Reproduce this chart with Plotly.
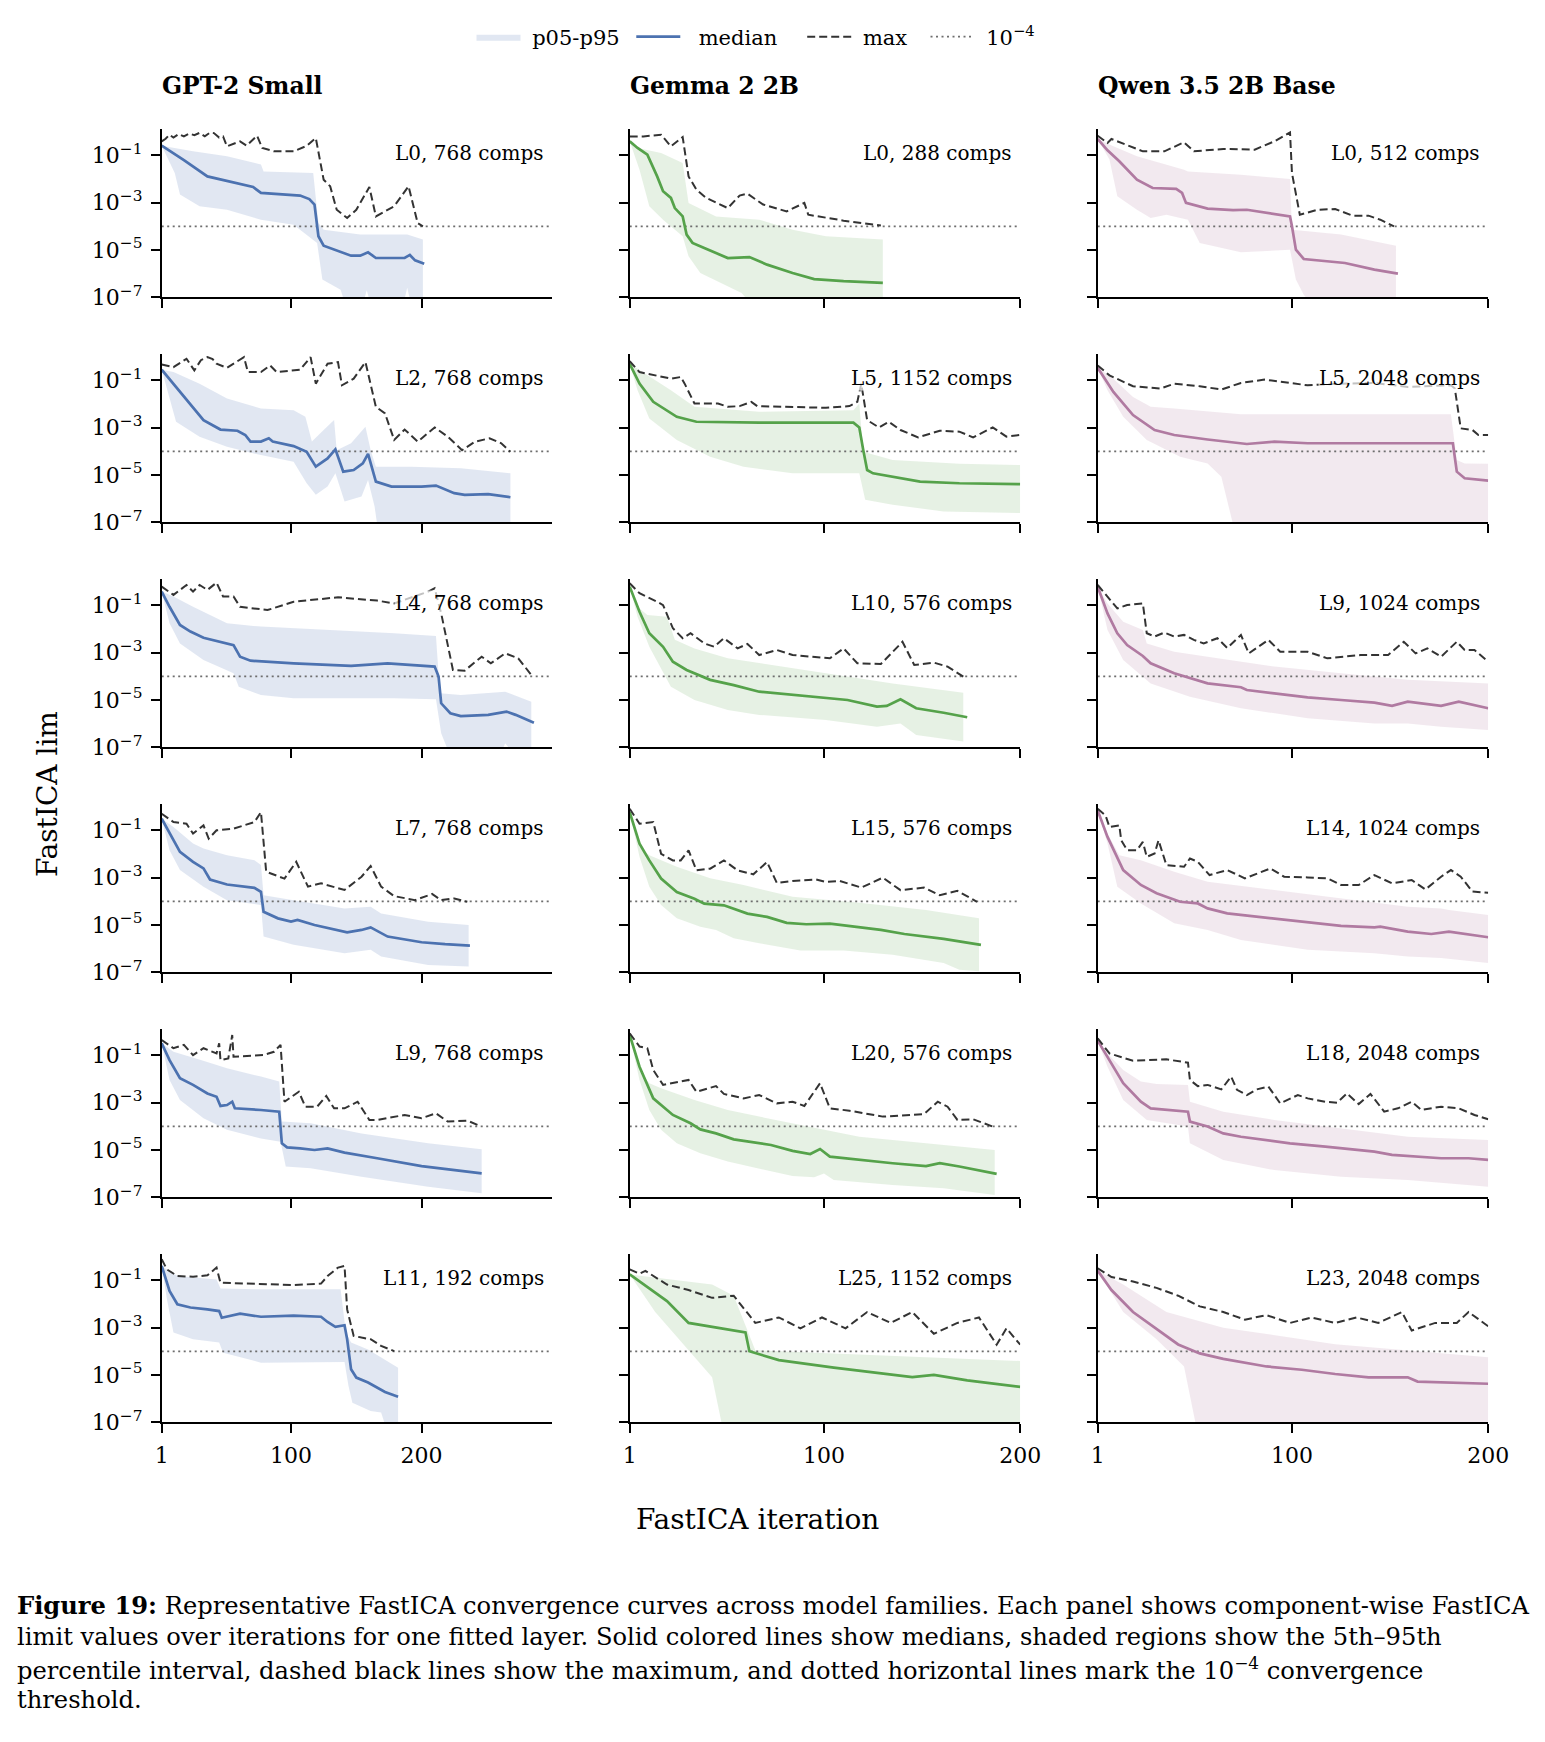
import plotly.graph_objects as go

# ---------------- data: (iteration, log10 of FastICA lim) ----------------
# GPT-2 Small
GPT_L0_MED = [(1,-0.59),(18,-1.2),(36,-1.89),(59,-2.17),(71,-2.34),(77,-2.59),(107,-2.70),(114,-2.85),(118,-3.08),(121,-4.42),(125,-4.82),(146,-5.24),(153,-5.24),(159,-5.10),(165,-5.34),(187,-5.34),(191,-5.21),(195,-5.44),(202,-5.58)]
GPT_L0_P95 = [(1,-0.59),(10,-0.69),(25,-0.83),(51,-1.04),(77,-1.39),(79,-1.68),(117,-1.75),(121,-3.86),(125,-4.14),(153,-4.35),(189,-4.35),(201,-4.56)]
GPT_L0_P05 = [(1,-0.59),(11,-1.75),(15,-2.66),(30,-3.15),(51,-3.30),(77,-3.72),(102,-3.93),(120,-4.70),(124,-6.25),(138,-6.68),(141,-7.2),(155,-7.3),(158,-6.7),(161,-7.3),(186,-7.3),(189,-6.6),(192,-7.3),(201,-7.3)]
GPT_L0_MAX = [(1,-0.41),(4,-0.3),(7,-0.13),(10,-0.25),(14,-0.1),(18,-0.2),(22,-0.08),(26,-0.15),(30,-0.05),(34,-0.2),(38,-0.04),(41,-0.06),(45,-0.25),(48,-0.2),(51,-0.62),(61,-0.41),(66,-0.59),(74,-0.17),(78,-0.69),(87,-0.83),(102,-0.83),(112,-0.6),(119,-0.27),(125,-2.03),(130,-2.31),(135,-3.30),(143,-3.65),(150,-3.30),(160,-2.34),(165,-3.58),(179,-3.15),(190,-2.31),(197,-3.86),(201,-4.0)]

GPT_L2_MED = [(1,-0.55),(10,-1.14),(25,-2.12),(33,-2.68),(46,-3.08),(59,-3.13),(65,-3.31),(69,-3.59),(77,-3.59),(83,-3.45),(86,-3.59),(102,-3.78),(112,-4.02),(119,-4.65),(128,-4.30),(134,-3.92),(140,-4.86),(148,-4.79),(155,-4.51),(159,-4.11),(165,-5.28),(177,-5.49),(200,-5.49),(211,-5.45),(225,-5.77),(233,-5.84),(251,-5.81),(268,-5.94)]
GPT_L2_P95 = [(1,-0.55),(10,-0.65),(30,-1.14),(51,-1.77),(77,-2.19),(102,-2.26),(111,-2.54),(116,-3.59),(125,-3.10),(133,-2.68),(135,-3.95),(146,-3.66),(157,-2.96),(161,-3.95),(165,-4.65),(192,-4.65),(230,-4.72),(268,-4.93)]
GPT_L2_P05 = [(1,-0.55),(7,-1.70),(12,-2.75),(30,-3.38),(51,-3.81),(77,-4.16),(102,-4.44),(112,-5.35),(119,-5.84),(128,-5.49),(134,-4.93),(141,-6.12),(154,-5.91),(159,-5.21),(164,-6.33),(166,-7.1),(268,-7.2)]
GPT_L2_MAX = [(1,-0.33),(10,-0.44),(20,-0.09),(26,-0.58),(31,-0.15),(36,-0.02),(40,-0.1),(43,-0.30),(51,-0.47),(64,-0.02),(67,-0.65),(77,-0.65),(84,-0.37),(89,-0.65),(107,-0.55),(115,-0.02),(119,-1.14),(128,-0.30),(136,-0.23),(139,-1.21),(148,-0.93),(157,-0.23),(165,-2.12),(172,-2.40),(179,-3.52),(187,-3.08),(197,-3.59),(210,-2.99),(220,-3.38),(231,-3.95),(241,-3.59),(252,-3.45),(261,-3.66),(268,-4.02)]

GPT_L4_MED = [(1,-0.42),(7,-1.06),(15,-1.83),(23,-2.11),(33,-2.37),(56,-2.68),(61,-3.17),(69,-3.34),(102,-3.45),(146,-3.56),(174,-3.45),(210,-3.59),(213,-4.01),(215,-5.14),(222,-5.56),(230,-5.68),(251,-5.63),(265,-5.49),(272,-5.63),(286,-5.96)]
GPT_L4_P95 = [(1,-0.42),(10,-0.63),(25,-1.06),(51,-1.76),(77,-1.90),(128,-2.04),(179,-2.18),(211,-2.30),(214,-4.72),(230,-4.79),(264,-4.65),(284,-5.07)]
GPT_L4_P05 = [(1,-0.42),(7,-1.76),(15,-2.61),(33,-3.31),(56,-3.87),(60,-4.44),(77,-4.79),(102,-4.93),(179,-4.93),(211,-4.97),(215,-6.41),(220,-7.1),(262,-7.1),(264,-6.83),(268,-7.1),(284,-7.1)]
GPT_L4_MAX = [(1,-0.21),(10,-0.56),(20,-0.14),(25,-0.42),(30,-0.14),(36,-0.35),(43,-0.04),(48,-0.63),(56,-0.63),(61,-1.06),(82,-1.20),(102,-0.85),(136,-0.66),(166,-0.80),(179,-0.92),(205,-0.42),(210,-0.28),(215,-1.34),(224,-3.73),(233,-3.76),(246,-3.17),(253,-3.45),(264,-3.03),(274,-3.24),(284,-3.94)]

GPT_L7_MED = [(1,-0.51),(10,-1.42),(15,-1.91),(25,-2.33),(33,-2.61),(38,-3.08),(51,-3.29),(72,-3.43),(77,-3.60),(79,-4.44),(90,-4.72),(100,-4.86),(105,-4.79),(118,-5.00),(143,-5.31),(154,-5.21),(161,-5.10),(174,-5.49),(200,-5.73),(218,-5.81),(237,-5.87)]
GPT_L7_P95 = [(1,-0.51),(10,-0.86),(25,-1.56),(33,-1.77),(51,-2.05),(72,-2.26),(77,-2.47),(79,-3.74),(102,-3.95),(141,-4.30),(161,-4.23),(169,-4.51),(205,-4.86),(236,-5.0)]
GPT_L7_P05 = [(1,-0.51),(7,-1.84),(15,-2.68),(33,-3.38),(51,-3.95),(77,-4.16),(79,-5.49),(102,-5.84),(141,-6.19),(161,-6.05),(169,-6.33),(205,-6.69),(236,-6.76)]
GPT_L7_MAX = [(1,-0.30),(10,-0.65),(20,-0.72),(25,-1.14),(33,-0.79),(37,-1.35),(43,-1.0),(56,-0.93),(72,-0.65),(77,-0.23),(81,-2.75),(95,-3.04),(104,-2.33),(113,-3.38),(123,-3.24),(141,-3.52),(154,-2.96),(161,-2.51),(169,-3.38),(179,-3.78),(195,-3.95),(208,-3.69),(215,-3.95),(225,-3.88),(235,-4.02)]

GPT_L9_MED = [(1,-0.49),(7,-1.20),(15,-1.97),(25,-2.25),(36,-2.61),(43,-2.75),(46,-3.14),(51,-3.10),(55,-2.96),(57,-3.24),(77,-3.31),(91,-3.38),(93,-4.72),(97,-4.89),(107,-4.93),(118,-5.0),(128,-4.93),(141,-5.11),(166,-5.35),(200,-5.68),(246,-5.99)]
GPT_L9_P95 = [(1,-0.49),(10,-0.85),(31,-1.20),(51,-1.55),(77,-1.90),(91,-2.11),(93,-3.80),(115,-3.87),(154,-4.30),(205,-4.72),(246,-4.97)]
GPT_L9_P05 = [(1,-0.49),(7,-2.04),(15,-2.89),(33,-3.66),(51,-4.15),(77,-4.51),(92,-4.65),(96,-5.70),(115,-5.77),(154,-6.13),(205,-6.55),(246,-6.83)]
GPT_L9_MAX = [(1,-0.35),(10,-0.70),(18,-0.56),(25,-0.99),(33,-0.70),(43,-0.92),(45,-0.49),(46,-1.20),(52,-1.13),(55,-0.14),(56,-1.06),(79,-0.99),(87,-0.85),(92,-0.56),(95,-2.96),(106,-2.54),(111,-3.17),(120,-3.17),(127,-2.72),(133,-3.24),(141,-3.24),(151,-2.96),(160,-3.73),(166,-3.73),(187,-3.52),(200,-3.66),(211,-3.45),(220,-3.80),(235,-3.76),(245,-3.99)]

GPT_L11_MED = [(1,-0.39),(7,-1.45),(13,-2.01),(23,-2.15),(36,-2.23),(45,-2.30),(47,-2.58),(61,-2.41),(77,-2.54),(102,-2.49),(123,-2.54),(128,-2.76),(134,-2.97),(141,-2.90),(143,-3.49),(146,-4.76),(150,-5.11),(159,-5.32),(172,-5.72),(182,-5.92)]
GPT_L11_P95 = [(1,-0.39),(5,-0.54),(13,-0.82),(43,-0.96),(46,-1.35),(77,-1.38),(138,-1.38),(142,-3.21),(146,-3.63),(159,-3.92),(172,-4.34),(182,-4.69)]
GPT_L11_P05 = [(1,-0.39),(5,-1.80),(10,-3.21),(25,-3.49),(45,-3.63),(48,-4.06),(77,-4.48),(128,-4.45),(141,-4.45),(144,-5.46),(147,-6.17),(161,-6.52),(169,-6.59),(172,-7.1),(182,-7.1)]
GPT_L11_MAX = [(1,-0.11),(5,-0.54),(13,-0.82),(25,-0.85),(36,-0.79),(43,-0.46),(46,-1.10),(64,-1.14),(102,-1.20),(123,-1.14),(128,-0.82),(136,-0.46),(141,-0.39),(143,-2.23),(148,-3.35),(154,-3.42),(161,-3.49),(169,-3.77),(179,-3.99)]

# Gemma 2 2B
GEM_L0_MED = [(1,-0.41),(5,-0.69),(10,-0.97),(15,-1.89),(18,-2.52),(22,-2.80),(24,-3.23),(28,-3.58),(30,-4.35),(33,-4.70),(39,-4.92),(51,-5.34),(62,-5.30),(71,-5.62),(84,-5.97),(95,-6.23),(110,-6.32),(124,-6.37),(130,-6.39)]
GEM_L0_P95 = [(1,-0.41),(5,-0.69),(17,-0.90),(28,-1.32),(31,-3.01),(45,-3.58),(67,-3.72),(84,-4.14),(101,-4.42),(130,-4.56)]
GEM_L0_P05 = [(1,-0.41),(6,-1.61),(11,-3.15),(18,-3.72),(28,-4.42),(31,-5.27),(37,-5.97),(51,-6.54),(58,-6.82),(61,-7.1),(130,-7.1)]
GEM_L0_MAX = [(1,-0.20),(8,-0.20),(17,-0.13),(22,-0.62),(28,-0.23),(31,-1.89),(35,-2.45),(40,-2.80),(51,-3.23),(57,-2.70),(61,-2.62),(69,-3.08),(81,-3.37),(90,-3.01),(92,-3.51),(101,-3.65),(110,-3.76),(129,-3.97)]

GEM_L5_MED = [(1,-0.30),(6,-1.14),(13,-1.91),(25,-2.54),(35,-2.75),(67,-2.79),(115,-2.79),(118,-2.99),(120,-3.94),(122,-4.79),(125,-4.93),(135,-5.07),(149,-5.28),(169,-5.35),(200,-5.39)]
GEM_L5_P95 = [(1,-0.30),(10,-0.79),(22,-1.42),(34,-2.12),(67,-2.33),(115,-2.26),(118,-1.98),(120,-4.02),(135,-4.37),(169,-4.53),(200,-4.58)]
GEM_L5_P05 = [(1,-0.30),(5,-1.42),(11,-2.61),(25,-3.52),(42,-4.23),(59,-4.65),(84,-4.93),(118,-4.93),(121,-6.05),(135,-6.26),(161,-6.54),(200,-6.61)]
GEM_L5_MAX = [(1,-0.19),(6,-0.65),(22,-0.93),(27,-0.86),(29,-1.14),(34,-1.98),(46,-1.98),(51,-2.12),(57,-2.09),(63,-1.91),(66,-2.09),(84,-2.12),(101,-2.16),(113,-2.09),(117,-1.91),(119,-1.14),(122,-2.68),(128,-2.99),(133,-2.75),(139,-3.10),(148,-3.41),(159,-3.13),(169,-3.17),(176,-3.41),(186,-2.99),(193,-3.38),(200,-3.31)]

GEM_L10_MED = [(1,-0.21),(6,-1.27),(11,-2.18),(18,-2.75),(23,-3.38),(30,-3.73),(42,-4.15),(54,-4.37),(67,-4.65),(84,-4.79),(112,-5.0),(127,-5.28),(132,-5.25),(139,-4.97),(147,-5.35),(161,-5.54),(173,-5.73)]
GEM_L10_P95 = [(1,-0.21),(5,-1.06),(10,-1.41),(20,-1.48),(24,-2.46),(34,-2.82),(51,-3.24),(67,-3.45),(101,-3.87),(135,-4.30),(171,-4.69)]
GEM_L10_P05 = [(1,-0.21),(5,-1.48),(11,-2.75),(22,-4.44),(34,-5.0),(51,-5.42),(67,-5.63),(101,-5.85),(127,-6.13),(139,-5.99),(147,-6.48),(171,-6.76)]
GEM_L10_MAX = [(1,-0.07),(6,-0.49),(15,-0.85),(18,-0.99),(23,-1.97),(28,-2.39),(32,-2.18),(39,-2.61),(44,-2.75),(49,-2.39),(56,-2.82),(61,-2.63),(67,-3.10),(76,-2.89),(84,-3.10),(95,-3.17),(103,-3.24),(110,-2.82),(117,-3.45),(129,-3.48),(140,-2.54),(146,-3.52),(156,-3.42),(163,-3.59),(171,-4.01)]

GEM_L15_MED = [(1,-0.23),(6,-1.56),(11,-2.27),(17,-3.04),(25,-3.61),(34,-3.89),(39,-4.10),(49,-4.17),(61,-4.52),(71,-4.66),(81,-4.91),(91,-4.97),(103,-4.94),(118,-5.08),(129,-5.21),(141,-5.38),(161,-5.59),(180,-5.84)]
GEM_L15_P95 = [(1,-0.23),(6,-1.70),(11,-2.05),(25,-2.54),(42,-3.03),(59,-3.31),(84,-3.81),(118,-4.06),(152,-4.37),(179,-4.72)]
GEM_L15_P05 = [(1,-0.23),(6,-2.12),(11,-3.38),(17,-4.16),(25,-4.72),(37,-5.07),(45,-5.21),(54,-5.56),(67,-5.77),(88,-6.08),(110,-6.08),(135,-6.26),(161,-6.61),(169,-6.89),(179,-6.96)]
GEM_L15_MAX = [(1,-0.09),(6,-0.72),(13,-0.65),(17,-1.99),(23,-2.27),(27,-2.27),(31,-1.85),(35,-2.69),(42,-2.62),(49,-2.27),(56,-2.69),(64,-2.86),(71,-2.34),(76,-3.23),(84,-3.14),(96,-3.08),(101,-3.18),(108,-3.14),(119,-3.42),(130,-3.0),(139,-3.53),(151,-3.42),(159,-3.74),(168,-3.56),(178,-4.02)]

GEM_L20_MED = [(1,-0.14),(6,-1.48),(13,-2.82),(23,-3.52),(32,-3.87),(37,-4.13),(45,-4.30),(54,-4.55),(73,-4.79),(84,-5.04),(93,-5.17),(98,-4.96),(103,-5.28),(118,-5.42),(135,-5.56),(152,-5.68),(159,-5.56),(169,-5.70),(188,-6.01)]
GEM_L20_P95 = [(1,-0.14),(6,-1.62),(11,-2.18),(17,-2.39),(34,-2.89),(51,-3.31),(67,-3.59),(84,-3.87),(101,-4.18),(118,-4.44),(152,-4.72),(187,-5.0)]
GEM_L20_P05 = [(1,-0.14),(6,-2.04),(11,-3.31),(17,-4.15),(25,-4.72),(37,-5.14),(51,-5.49),(67,-5.77),(84,-6.10),(95,-6.15),(100,-5.99),(105,-6.27),(135,-6.48),(161,-6.62),(187,-6.90)]
GEM_L20_MAX = [(1,-0.07),(6,-0.63),(10,-0.70),(13,-1.62),(18,-2.25),(23,-2.18),(31,-2.04),(35,-2.54),(45,-2.30),(49,-2.63),(59,-2.82),(67,-2.68),(76,-3.03),(84,-2.96),(90,-3.14),(98,-2.18),(103,-3.24),(113,-3.34),(130,-3.59),(151,-3.48),(158,-2.96),(163,-3.17),(168,-3.73),(176,-3.70),(186,-4.01)]

GEM_L25_MED = [(1,-0.75),(20,-1.88),(31,-2.80),(54,-3.12),(60,-3.2),(62,-4.0),(77,-4.37),(105,-4.69),(134,-5.0),(145,-5.09),(156,-5.0),(173,-5.23),(200,-5.5)]
GEM_L25_P95 = [(1,-0.75),(20,-0.95),(43,-1.18),(54,-1.65),(65,-3.95),(105,-4.09),(200,-4.41)]
GEM_L25_P05 = [(1,-0.75),(14,-2.34),(31,-3.95),(43,-5.10),(48,-7.1),(200,-7.1)]
GEM_L25_MAX = [(1,-0.54),(6,-0.72),(9,-0.6),(20,-1.18),(31,-1.41),(43,-1.74),(54,-1.65),(65,-2.80),(77,-2.57),(88,-3.03),(99,-2.57),(111,-3.03),(122,-2.34),(134,-2.80),(145,-2.34),(156,-3.26),(168,-2.80),(179,-2.57),(188,-3.72),(193,-3.03),(200,-3.72)]

# Qwen 3.5 2B Base
QW_L0_MED = [(1,-0.31),(6,-0.79),(12,-1.25),(21,-2.03),(29,-2.38),(41,-2.42),(44,-2.59),(46,-3.01),(57,-3.25),(70,-3.32),(77,-3.30),(91,-3.46),(99,-3.58),(100,-4.0),(102,-4.99),(106,-5.38),(120,-5.48),(127,-5.55),(142,-5.83),(154,-6.0)]
QW_L0_P95 = [(1,-0.31),(9,-0.62),(21,-1.04),(30,-1.25),(45,-1.61),(47,-1.68),(74,-1.82),(99,-2.0),(100,-4.14),(125,-4.35),(153,-4.82)]
QW_L0_P05 = [(1,-0.31),(7,-1.18),(11,-2.73),(21,-3.30),(28,-3.65),(36,-3.51),(47,-3.72),(53,-4.70),(74,-5.10),(99,-4.99),(102,-6.25),(106,-6.89),(108,-7.1),(153,-7.1)]
QW_L0_MAX = [(1,-0.17),(6,-0.48),(8,-0.31),(14,-0.51),(24,-0.83),(35,-0.83),(45,-0.45),(50,-0.83),(65,-0.73),(81,-0.76),(91,-0.41),(99,-0.03),(100,-1.75),(104,-3.51),(113,-3.30),(122,-3.27),(131,-3.55),(139,-3.55),(145,-3.72),(152,-4.0)]

QW_L5_MED = [(1,-0.47),(9,-1.49),(19,-2.47),(30,-3.10),(40,-3.31),(57,-3.50),(77,-3.69),(91,-3.59),(108,-3.66),(142,-3.66),(182,-3.66),(184,-4.86),(188,-5.14),(200,-5.24)]
QW_L5_P95 = [(1,-0.47),(9,-0.93),(19,-1.70),(28,-2.12),(40,-2.19),(74,-2.43),(108,-2.43),(181,-2.43),(184,-4.37),(188,-4.51),(200,-4.53)]
QW_L5_P05 = [(1,-0.47),(6,-1.42),(14,-2.54),(26,-3.52),(43,-4.23),(57,-4.51),(64,-5.07),(70,-7.1),(200,-7.1)]
QW_L5_MAX = [(1,-0.37),(7,-0.79),(19,-1.25),(33,-1.35),(40,-1.14),(53,-1.25),(64,-1.39),(74,-1.11),(86,-0.97),(108,-1.21),(125,-1.14),(142,-1.11),(159,-1.28),(181,-1.21),(183,-1.35),(186,-3.03),(192,-3.10),(195,-3.31),(200,-3.31)]

QW_L9_MED = [(1,-0.21),(6,-1.34),(11,-2.18),(16,-2.68),(24,-3.14),(28,-3.45),(40,-3.87),(57,-4.30),(74,-4.46),(77,-4.58),(91,-4.72),(108,-4.89),(125,-5.0),(142,-5.11),(151,-5.25),(159,-5.07),(176,-5.25),(185,-5.07),(200,-5.35)]
QW_L9_P95 = [(1,-0.21),(6,-0.92),(14,-1.69),(24,-2.04),(26,-2.61),(40,-2.96),(57,-3.17),(91,-3.59),(125,-3.87),(159,-4.15),(200,-4.30)]
QW_L9_P05 = [(1,-0.21),(6,-2.04),(14,-3.31),(28,-4.30),(48,-4.86),(74,-5.35),(108,-5.77),(142,-5.99),(159,-5.99),(176,-6.13),(200,-6.27)]
QW_L9_MAX = [(1,-0.14),(6,-0.63),(11,-1.13),(16,-0.99),(24,-0.92),(26,-2.18),(30,-2.32),(35,-2.15),(40,-2.32),(45,-2.25),(50,-2.46),(55,-2.61),(62,-2.39),(67,-2.80),(74,-2.25),(78,-3.03),(88,-2.46),(94,-2.96),(108,-2.96),(118,-3.24),(135,-3.10),(149,-3.10),(157,-2.54),(163,-3.03),(169,-2.82),(176,-3.17),(184,-2.54),(188,-2.89),(193,-2.89),(200,-3.38)]

QW_L14_MED = [(1,-0.16),(6,-1.28),(14,-2.68),(23,-3.31),(31,-3.66),(43,-4.02),(52,-4.09),(57,-4.30),(67,-4.51),(82,-4.65),(99,-4.82),(125,-5.04),(142,-5.10),(145,-5.07),(159,-5.28),(171,-5.38),(180,-5.28),(200,-5.52)]
QW_L14_P95 = [(1,-0.16),(6,-1.14),(12,-2.05),(23,-2.26),(40,-2.75),(57,-3.17),(91,-3.52),(125,-3.88),(159,-4.23),(176,-4.30),(180,-4.37),(200,-4.58)]
QW_L14_P05 = [(1,-0.16),(6,-1.56),(11,-3.38),(23,-4.09),(40,-4.93),(57,-5.21),(74,-5.63),(108,-6.05),(142,-6.19),(159,-6.33),(176,-6.40),(200,-6.61)]
QW_L14_MAX = [(1,-0.09),(5,-0.37),(7,-0.86),(12,-0.79),(13,-1.42),(16,-1.84),(21,-1.84),(24,-1.49),(26,-2.12),(30,-1.98),(32,-1.42),(36,-2.47),(45,-2.54),(48,-2.19),(52,-2.33),(58,-2.89),(67,-2.68),(76,-3.03),(89,-2.61),(96,-2.96),(108,-2.99),(118,-3.03),(125,-3.31),(134,-3.31),(142,-2.89),(151,-3.24),(161,-3.10),(168,-3.50),(176,-2.96),(181,-2.68),(186,-2.96),(192,-3.59),(200,-3.64)]

QW_L18_MED = [(1,-0.38),(7,-1.20),(14,-2.18),(23,-2.96),(28,-3.24),(47,-3.38),(48,-3.80),(57,-4.01),(65,-4.30),(74,-4.44),(88,-4.58),(99,-4.72),(117,-4.86),(142,-5.07),(151,-5.21),(176,-5.35),(190,-5.35),(200,-5.42)]
QW_L18_P95 = [(1,-0.38),(6,-0.92),(14,-1.62),(23,-2.11),(31,-2.21),(47,-2.25),(48,-2.96),(65,-3.38),(91,-3.73),(125,-4.08),(159,-4.44),(200,-4.58)]
QW_L18_P05 = [(1,-0.38),(6,-1.48),(14,-2.89),(26,-3.73),(47,-4.01),(48,-4.72),(65,-5.42),(91,-5.85),(125,-6.13),(159,-6.27),(200,-6.55)]
QW_L18_MAX = [(1,-0.28),(7,-0.92),(19,-1.23),(31,-1.20),(36,-1.17),(47,-1.31),(48,-2.04),(52,-2.30),(57,-2.25),(64,-2.44),(69,-1.90),(72,-2.46),(77,-2.68),(82,-2.44),(88,-2.32),(94,-3.03),(103,-2.68),(108,-2.82),(117,-2.96),(123,-3.0),(128,-2.61),(134,-3.06),(140,-2.63),(147,-3.38),(154,-3.24),(161,-2.96),(166,-3.31),(176,-3.17),(185,-3.24),(193,-3.52),(200,-3.70)]

QW_L23_MED = [(1,-0.59),(8,-1.41),(19,-2.34),(31,-3.07),(42,-3.71),(53,-4.09),(65,-4.32),(87,-4.64),(105,-4.78),(122,-4.96),(139,-5.10),(159,-5.10),(164,-5.28),(200,-5.37)]
QW_L23_P95 = [(1,-0.59),(14,-1.18),(36,-2.34),(65,-3.0),(122,-3.70),(200,-4.25)]
QW_L23_P05 = [(1,-0.59),(14,-2.34),(31,-3.49),(45,-4.64),(51,-7.1),(200,-7.1)]
QW_L23_MAX = [(1,-0.49),(8,-0.86),(19,-1.05),(31,-1.32),(42,-1.65),(53,-2.10),(65,-2.34),(76,-2.66),(87,-2.47),(99,-2.80),(110,-2.57),(122,-2.80),(133,-2.57),(144,-2.80),(156,-2.34),(161,-3.12),(173,-2.80),(184,-2.80),(190,-2.34),(200,-2.94)]

MODELS = ["GPT-2 Small", "Gemma 2 2B", "Qwen 3.5 2B Base"]
X_MAX = [300, 200, 200]
X_TICKS = [1, 100, 200]
Y_TICKS = [1e-1, 1e-3, 1e-5, 1e-7]
Y_TICK_TEXT = ["10<sup>−1</sup>", "10<sup>−3</sup>", "10<sup>−5</sup>", "10<sup>−7</sup>"]
THRESHOLD = 1e-4
LEGEND_NAMES = ["p05-p95", "median", "max", "10<sup>−4</sup>"]

PANELS = [  # (row, col, label, median, p05, p95, max)
    (0, 0, "L0, 768 comps", GPT_L0_MED, GPT_L0_P05, GPT_L0_P95, GPT_L0_MAX),
    (0, 1, "L0, 288 comps", GEM_L0_MED, GEM_L0_P05, GEM_L0_P95, GEM_L0_MAX),
    (0, 2, "L0, 512 comps", QW_L0_MED, QW_L0_P05, QW_L0_P95, QW_L0_MAX),
    (1, 0, "L2, 768 comps", GPT_L2_MED, GPT_L2_P05, GPT_L2_P95, GPT_L2_MAX),
    (1, 1, "L5, 1152 comps", GEM_L5_MED, GEM_L5_P05, GEM_L5_P95, GEM_L5_MAX),
    (1, 2, "L5, 2048 comps", QW_L5_MED, QW_L5_P05, QW_L5_P95, QW_L5_MAX),
    (2, 0, "L4, 768 comps", GPT_L4_MED, GPT_L4_P05, GPT_L4_P95, GPT_L4_MAX),
    (2, 1, "L10, 576 comps", GEM_L10_MED, GEM_L10_P05, GEM_L10_P95, GEM_L10_MAX),
    (2, 2, "L9, 1024 comps", QW_L9_MED, QW_L9_P05, QW_L9_P95, QW_L9_MAX),
    (3, 0, "L7, 768 comps", GPT_L7_MED, GPT_L7_P05, GPT_L7_P95, GPT_L7_MAX),
    (3, 1, "L15, 576 comps", GEM_L15_MED, GEM_L15_P05, GEM_L15_P95, GEM_L15_MAX),
    (3, 2, "L14, 1024 comps", QW_L14_MED, QW_L14_P05, QW_L14_P95, QW_L14_MAX),
    (4, 0, "L9, 768 comps", GPT_L9_MED, GPT_L9_P05, GPT_L9_P95, GPT_L9_MAX),
    (4, 1, "L20, 576 comps", GEM_L20_MED, GEM_L20_P05, GEM_L20_P95, GEM_L20_MAX),
    (4, 2, "L18, 2048 comps", QW_L18_MED, QW_L18_P05, QW_L18_P95, QW_L18_MAX),
    (5, 0, "L11, 192 comps", GPT_L11_MED, GPT_L11_P05, GPT_L11_P95, GPT_L11_MAX),
    (5, 1, "L25, 1152 comps", GEM_L25_MED, GEM_L25_P05, GEM_L25_P95, GEM_L25_MAX),
    (5, 2, "L23, 2048 comps", QW_L23_MED, QW_L23_P05, QW_L23_P95, QW_L23_MAX),
]

LINE_COLORS = ["#4C72B0", "#55A24A", "#B07AA1"]
BAND_COLORS = ["rgba(76,114,176,0.17)", "rgba(85,162,74,0.15)", "rgba(176,122,161,0.17)"]
MAX_COLOR = "#333333"
THR_COLOR = "#6e6e6e"

# ---------------- layout geometry (pixels) ----------------
W, H = 1545, 1742
COL_LEFT = [161.7, 629.7, 1097.7]
COL_W = 390.5
ROW_BOTTOM0 = 297.3
ROW_STEP = 225.0
ROW_H = 168.0
FONT = "DejaVu Serif"
NB = "\u00a0"

def xs(pts):
    return [p[0] for p in pts]

def ys(pts):
    return [10 ** p[1] for p in pts]

fig = go.Figure()
layout_axes = {}
annotations = []

for i, (r, c, label, med, p05, p95, mx) in enumerate(PANELS):
    n = i + 1
    xa = "x" if n == 1 else f"x{n}"
    ya = "y" if n == 1 else f"y{n}"
    bx = xs(p95) + xs(p05)[::-1]
    by = ys(p95) + ys(p05)[::-1]
    fig.add_trace(go.Scatter(x=bx, y=by, fill="toself", fillcolor=BAND_COLORS[c],
                             line=dict(width=0), mode="lines", xaxis=xa, yaxis=ya,
                             showlegend=False, hoverinfo="skip"))
    fig.add_trace(go.Scatter(x=[1, X_MAX[c]], y=[THRESHOLD, THRESHOLD], mode="lines",
                             line=dict(color=THR_COLOR, width=1.8, dash="2px,3.5px"),
                             xaxis=xa, yaxis=ya, showlegend=False, hoverinfo="skip"))
    fig.add_trace(go.Scatter(x=xs(med), y=ys(med), mode="lines",
                             line=dict(color=LINE_COLORS[c], width=2.7),
                             xaxis=xa, yaxis=ya, showlegend=False))
    fig.add_trace(go.Scatter(x=xs(mx), y=ys(mx), mode="lines",
                             line=dict(color=MAX_COLOR, width=2.0, dash="8px,4px"),
                             xaxis=xa, yaxis=ya, showlegend=False))

    x0 = COL_LEFT[c] / W
    x1 = (COL_LEFT[c] + COL_W) / W
    bottom = ROW_BOTTOM0 + ROW_STEP * r
    top = bottom - ROW_H
    axkey = "xaxis" if n == 1 else f"xaxis{n}"
    aykey = "yaxis" if n == 1 else f"yaxis{n}"
    layout_axes[axkey] = dict(
        domain=[x0, x1], anchor=ya, range=[1, X_MAX[c]], showgrid=False, zeroline=False,
        showline=True, linecolor="black", linewidth=1.6, ticks="outside", ticklen=9,
        tickwidth=1.6, tickcolor="black", tickvals=X_TICKS,
        ticktext=[str(v) for v in X_TICKS], showticklabels=(r == 5),
        ticklabelstandoff=3,
        tickfont=dict(family=FONT, size=22, color="black"),
    )
    layout_axes[aykey] = dict(
        domain=[1 - bottom / H, 1 - top / H], anchor=xa, type="log", range=[-7, 0.1],
        showgrid=False, zeroline=False, showline=True, linecolor="black", linewidth=1.6,
        ticks="outside", ticklen=9, tickwidth=1.6, tickcolor="black", tickvals=Y_TICKS,
        ticktext=Y_TICK_TEXT, showticklabels=(c == 0), ticklabelstandoff=4,
        tickfont=dict(family=FONT, size=22, color="black"),
    )
    annotations.append(dict(
        text=label, xref=f"{xa} domain", yref=f"{ya} domain", x=1, y=1,
        xanchor="right", yanchor="middle", xshift=-7, yshift=-24, showarrow=False,
        font=dict(family=FONT, size=20, color="black"),
        bgcolor="rgba(255,255,255,0.7)", borderpad=0,
    ))

for c, name in enumerate(MODELS):
    annotations.append(dict(
        text=f"<b>{name}</b>", xref="paper", yref="paper", x=(COL_LEFT[c] - 1.5) / W,
        y=1 - 86 / H, xanchor="left", yanchor="middle", showarrow=False,
        font=dict(family=FONT, size=23.5, color="black"),
    ))

annotations.append(dict(text="FastICA lim", xref="paper", yref="paper", x=47 / W,
                        y=1 - 794 / H, xanchor="center", yanchor="middle", textangle=-90,
                        showarrow=False, font=dict(family=FONT, size=28, color="black")))
annotations.append(dict(text="FastICA iteration", xref="paper", yref="paper", x=757 / W,
                        y=1 - 1519 / H, xanchor="center", yanchor="middle",
                        showarrow=False, font=dict(family=FONT, size=28, color="black")))

CAPTION = [
    "<b>Figure 19:</b> Representative FastICA convergence curves across model families. Each panel shows component-wise FastICA",
    "limit values over iterations for one fitted layer. Solid colored lines show medians, shaded regions show the 5th–95th",
    "percentile interval, dashed black lines show the maximum, and dotted horizontal lines mark the 10<sup>−4</sup> convergence",
    "threshold.",
]
CAP_Y = [1605, 1637, 1669, 1700]
for line, yy in zip(CAPTION, CAP_Y):
    annotations.append(dict(text=line, xref="paper", yref="paper", x=15 / W, y=1 - yy / H,
                            xanchor="left", yanchor="middle", showarrow=False,
                            font=dict(family=FONT, size=24.2, color="black")))

# legend entries (non-breaking spaces only pad the spacing between entries)
fig.add_trace(go.Scatter(x=[None], y=[None], mode="lines", fill="toself",
                         fillcolor=BAND_COLORS[0], line=dict(width=0),
                         name=NB + LEGEND_NAMES[0] + NB))
fig.add_trace(go.Scatter(x=[None], y=[None], mode="lines",
                         line=dict(color=LINE_COLORS[0], width=2.7),
                         name=NB * 2 + LEGEND_NAMES[1] + NB * 3))
fig.add_trace(go.Scatter(x=[None], y=[None], mode="lines",
                         line=dict(color=MAX_COLOR, width=2.0, dash="8px,4px"),
                         name=NB + LEGEND_NAMES[2] + NB * 2))
fig.add_trace(go.Scatter(x=[None], y=[None], mode="lines",
                         line=dict(color=THR_COLOR, width=1.8, dash="2px,3.5px"),
                         name=NB + LEGEND_NAMES[3]))

fig.update_layout(
    width=W, height=H, margin=dict(l=0, r=0, t=0, b=0),
    paper_bgcolor="white", plot_bgcolor="white", template="none",
    font=dict(family=FONT, color="black"),
    annotations=annotations,
    legend=dict(orientation="h", x=756 / W, xanchor="center", y=1 - 37 / H,
                yanchor="middle", font=dict(family=FONT, size=21, color="black"),
                itemwidth=44, bgcolor="rgba(0,0,0,0)"),
    **layout_axes,
)

fig.write_html("out.html")
